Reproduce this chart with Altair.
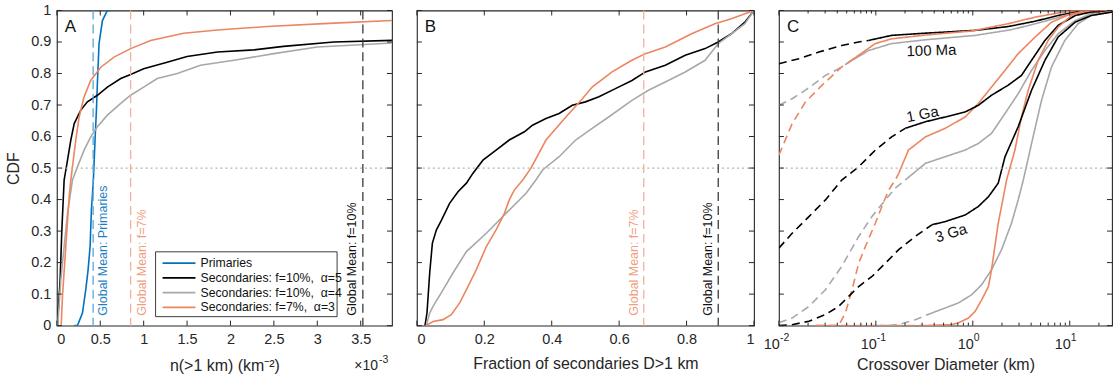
import altair as alt
import pandas as pd

FONT = "Liberation Sans"
AXC = "#262626"
H = 316
WA, WB, WC = 336, 338, 334
NB = "\u00a0"

SERIES = ["Primaries", "Secondaries: f=10%," + NB + " α=5", "Secondaries: f=10%," + NB + " α=4",
          "Secondaries: f=7%," + NB + " α=3"]
SERIES_COLORS = ["#0072BD", "#000000", "#A8A8A8", "#EC8560"]

Y_TICKS = [0, 0.1, 0.2, 0.3, 0.4, 0.5, 0.6, 0.7, 0.8, 0.9, 1.0]

# ---------------- Panel A : n(>1 km) in units of 1e-3 km^-2 ----------------
A_XMAX = 3.86
A_XTICKS = [0, 0.5, 1, 1.5, 2, 2.5, 3, 3.5]
A_PRIM_X = [0.20, 0.237, 0.295, 0.333, 0.36, 0.383, 0.398, 0.421, 0.44, 0.456, 0.467, 0.486, 0.525, 0.582, 0.62]
A_PRIM_Y = [0, 0, 0.04, 0.114, 0.177, 0.251, 0.367, 0.462, 0.59, 0.684, 0.768, 0.895, 0.968, 1.0, 1.0]
A_SEC5_X = [0.008, 0.015, 0.038, 0.057, 0.084, 0.123, 0.161, 0.2, 0.276, 0.352, 0.467, 0.582, 0.736, 0.85, 1.0,
            1.27, 1.5, 1.85, 2.27, 2.61, 3.19, 3.86]
A_SEC5_Y = [0, 0.04, 0.146, 0.30, 0.462, 0.525, 0.589, 0.641, 0.684, 0.71, 0.731, 0.757, 0.784, 0.797, 0.815,
            0.836, 0.854, 0.868, 0.875, 0.886, 0.90, 0.905]
A_SEC4_X = [0.01, 0.046, 0.084, 0.123, 0.18, 0.238, 0.314, 0.39, 0.467, 0.582, 0.736, 0.85, 1.0, 1.157, 1.387,
            1.655, 2.04, 2.5, 3.0, 3.49, 3.86]
A_SEC4_Y = [0, 0.146, 0.251, 0.357, 0.462, 0.504, 0.557, 0.599, 0.631, 0.668, 0.705, 0.731, 0.757, 0.784, 0.80,
            0.826, 0.842, 0.863, 0.884, 0.891, 0.897]
A_SEC3_X = [0.05, 0.065, 0.103, 0.142, 0.161, 0.218, 0.257, 0.314, 0.39, 0.506, 0.659, 0.85, 1.08, 1.46, 1.85,
            2.42, 3.19, 3.86]
A_SEC3_Y = [0, 0.093, 0.251, 0.409, 0.462, 0.589, 0.662, 0.726, 0.778, 0.82, 0.852, 0.879, 0.905, 0.928, 0.938,
            0.949, 0.96, 0.968]
A_MEANS = [0.418, 0.85, 3.525]
A_MEAN_COLORS = ["#5AA6DC", "#F2B29A", "#3A3A3A"]
A_MEAN_LABELS = ["Global Mean: Primaries", "Global Mean: f=7%", "Global Mean: f=10%"]
A_MEAN_TEXT_COLORS = ["#1F7FC4", "#F0A080", "#111111"]
A_MEAN_SIDE = [10, 11, -11]

# ---------------- Panel B : fraction of secondaries D>1 km ----------------
B_XTICKS = [0, 0.2, 0.4, 0.6, 0.8, 1]
B_SEC5_X = [0.024, 0.03, 0.038, 0.046, 0.058, 0.073, 0.097, 0.122, 0.147, 0.166, 0.196, 0.235, 0.274, 0.319,
            0.343, 0.383, 0.422, 0.461, 0.5, 0.54, 0.589, 0.638, 0.678, 0.737, 0.796, 0.855, 0.894, 0.933, 0.973, 1.0]
B_SEC5_Y = [0, 0.04, 0.167, 0.262, 0.304, 0.335, 0.388, 0.425, 0.452, 0.483, 0.525, 0.557, 0.589, 0.615,
            0.636, 0.657, 0.673, 0.699, 0.71, 0.726, 0.752, 0.778, 0.805, 0.826, 0.858, 0.879, 0.9, 0.926, 0.963, 1.0]
B_SEC4_X = [0.028, 0.038, 0.048, 0.078, 0.107, 0.147, 0.206, 0.265, 0.324, 0.353, 0.373, 0.422, 0.471, 0.52,
            0.569, 0.638, 0.687, 0.737, 0.796, 0.855, 0.894, 0.933, 0.973, 1.0]
B_SEC4_Y = [0, 0.04, 0.061, 0.114, 0.167, 0.235, 0.293, 0.357, 0.42, 0.462, 0.494, 0.536, 0.589, 0.626,
            0.662, 0.715, 0.747, 0.773, 0.805, 0.842, 0.895, 0.926, 0.958, 1.0]
B_SEC3_X = [0.026, 0.048, 0.078, 0.102, 0.127, 0.147, 0.176, 0.206, 0.235, 0.26, 0.274, 0.289, 0.314, 0.338,
            0.383, 0.442, 0.491, 0.52, 0.579, 0.638, 0.678, 0.737, 0.815, 0.884, 0.933, 1.0]
B_SEC3_Y = [0, 0.013, 0.019, 0.035, 0.072, 0.114, 0.177, 0.251, 0.304, 0.357, 0.399, 0.43, 0.462, 0.499,
            0.589, 0.662, 0.72, 0.757, 0.805, 0.842, 0.863, 0.884, 0.926, 0.958, 0.974, 1.0]
B_MEANS = [0.673, 0.894]
B_MEAN_COLORS = ["#F2B29A", "#3A3A3A"]
B_MEAN_LABELS = ["Global Mean: f=7%", "Global Mean: f=10%"]
B_MEAN_TEXT_COLORS = ["#F0A080", "#111111"]
B_MEAN_SIDE = [-10, -10]

# ---------------- Panel C : crossover diameter (km), log axis ----------------
C_DOMAIN = [0.01, 27.3]
C_MAJOR = [0.01, 0.1, 1, 10]
C_MAJOR_EXP = ["-2", "-1", "0", "1"]
C_MINOR = [0.02, 0.03, 0.04, 0.05, 0.06, 0.07, 0.08, 0.09, 0.2, 0.3, 0.4, 0.5, 0.6, 0.7, 0.8, 0.9,
           2, 3, 4, 5, 6, 7, 8, 9, 20]

# 100 Ma
C100_K_X = [0.01, 0.0161, 0.0258, 0.0445, 0.0665, 0.0843, 0.1455, 0.325, 1.064, 2.32, 4.41, 7.6, 11.4, 16.6, 27.3]
C100_K_Y = [0.831, 0.847, 0.868, 0.889, 0.900, 0.905, 0.921, 0.928, 0.937, 0.949, 0.966, 0.984, 0.995, 1.0, 1.0]
C100_K_SPLIT = 5
C100_O_X = [0.01, 0.0137, 0.0188, 0.0279, 0.0445, 0.0525, 0.0665, 0.0988, 0.1455, 0.325, 0.975, 2.32, 4.41, 7.6,
            11.4, 27.3]
C100_O_Y = [0.541, 0.641, 0.71, 0.763, 0.821, 0.836, 0.858, 0.895, 0.91, 0.922, 0.935, 0.958, 0.979, 0.992, 1.0, 1.0]
C100_O_SPLIT = 5
C100_G_X = [0.01, 0.0137, 0.0188, 0.0302, 0.0414, 0.0568, 0.0843, 0.1455, 0.325, 1.064, 2.51, 5.12, 8.91, 14.3, 27.3]
C100_G_Y = [0.699, 0.72, 0.747, 0.794, 0.815, 0.842, 0.873, 0.895, 0.907, 0.921, 0.939, 0.963, 0.984, 0.995, 1.0]
C100_G_SPLIT = 5
# 1 Ga
C1G_K_X = [0.01, 0.0137, 0.0204, 0.0302, 0.0445, 0.0665, 0.0988, 0.1455, 0.201, 0.325, 0.519, 0.834, 1.14, 1.56,
           2.32, 3.18, 4.04, 5.55, 7.6, 11.4, 16.6, 27.3]
C1G_K_Y = [0.246, 0.293, 0.346, 0.399, 0.462, 0.504, 0.557, 0.599, 0.626, 0.647, 0.662, 0.678, 0.699, 0.731,
           0.763, 0.794, 0.842, 0.905, 0.953, 0.984, 0.995, 1.0]
C1G_K_SPLIT = 8
C1G_O_X = [0.024, 0.0414, 0.0485, 0.0568, 0.0665, 0.078, 0.0988, 0.1155, 0.1355, 0.1585, 0.172, 0.217, 0.325,
           0.519, 0.834, 1.14, 1.56, 2.15, 2.94, 4.41, 6.49, 10.4, 27.3]
C1G_O_Y = [0.0, 0.0, 0.04, 0.114, 0.198, 0.251, 0.325, 0.378, 0.43, 0.462, 0.483, 0.557, 0.599, 0.626, 0.662,
           0.705, 0.757, 0.81, 0.863, 0.916, 0.963, 0.99, 1.0]
C1G_O_SPLIT = 10
C1G_G_X = [0.01, 0.0137, 0.0204, 0.0302, 0.0445, 0.0665, 0.0912, 0.1253, 0.1585, 0.201, 0.325, 0.519, 0.834,
           1.14, 1.56, 2.15, 2.94, 4.04, 5.55, 7.6, 11.4, 16.6, 27.3]
C1G_G_Y = [0.009, 0.024, 0.061, 0.114, 0.188, 0.283, 0.346, 0.399, 0.436, 0.462, 0.515, 0.536, 0.557, 0.578,
           0.61, 0.673, 0.736, 0.81, 0.873, 0.926, 0.968, 0.99, 1.0]
C1G_G_SPLIT = 9
# 3 Ga
C3G_K_X = [0.01, 0.0137, 0.0204, 0.0302, 0.0414, 0.0525, 0.0665, 0.0912, 0.1253, 0.172, 0.255, 0.378, 0.519,
           0.834, 1.14, 1.45, 1.83, 2.15, 2.94, 4.04, 5.55, 7.6, 11.4, 16.6, 27.3]
C3G_K_Y = [0.0, 0.003, 0.014, 0.035, 0.061, 0.093, 0.124, 0.156, 0.198, 0.241, 0.283, 0.32, 0.33, 0.351, 0.378,
           0.409, 0.452, 0.536, 0.631, 0.747, 0.842, 0.916, 0.963, 0.984, 0.995]
C3G_K_SPLIT = 11
C3G_O_X = [0.024, 0.1, 0.3, 0.607, 0.711, 0.902, 1.056, 1.236, 1.45, 1.56, 1.69, 1.83, 2.07, 2.23, 2.72, 3.18,
           3.73, 4.73, 6.0, 7.6, 10.4, 14.0, 27.3]
C3G_O_Y = [0.0, 0.0, 0.0, 0.003, 0.009, 0.024, 0.045, 0.082, 0.124, 0.177, 0.251, 0.325, 0.409, 0.462, 0.557,
           0.662, 0.747, 0.842, 0.905, 0.947, 0.984, 1.0, 1.0]
C3G_O_SPLIT = 2
C3G_G_X = [0.1, 0.1253, 0.172, 0.255, 0.378, 0.519, 0.711, 0.975, 1.236, 1.56, 1.98, 2.51, 2.94, 3.32, 4.04,
           5.12, 6.49, 8.91, 12.2, 16.6, 27.3]
C3G_G_Y = [0.0, 0.0, 0.003, 0.019, 0.04, 0.056, 0.072, 0.098, 0.13, 0.177, 0.241, 0.325, 0.399, 0.462, 0.578,
           0.715, 0.821, 0.905, 0.958, 0.984, 0.997]
C3G_G_SPLIT = 4

C_LABELS = ["100 Ma", "1 Ga", "3 Ga"]
C_LABEL_X = [0.375, 0.303, 0.596]
C_LABEL_Y = [0.873, 0.671, 0.294]
C_LABEL_ANGLE = [358, 349, 343]

# ======================================================================
color_scale = alt.Scale(domain=SERIES, range=SERIES_COLORS)
y_scale = alt.Scale(domain=[0, 1], nice=False, zero=False)
NOAX = dict(ticks=False, domain=False, grid=False, labelOverlap=False)


def curves_df(parts):
    rows = []
    for key, series, xs, ys, dash in parts:
        for i, (x, y) in enumerate(zip(xs, ys)):
            rows.append({"key": key, "series": series, "x": x, "y": y, "i": i, "part": dash})
    return pd.DataFrame(rows)


class Panel:
    def __init__(self, xscale, xaxis, xtitle, yaxis, ytitle):
        self.xs, self.xa, self.xt = xscale, xaxis, xtitle
        self.ya, self.yt = yaxis, ytitle

    def X(self, f="x:Q"):
        return alt.X(f, scale=self.xs, axis=self.xa, title=self.xt)

    def Y(self, f="y:Q"):
        return alt.Y(f, scale=y_scale, axis=self.ya, title=self.yt)


def frame_ticks(P, W, xmajor, xminor=None):
    lay = []
    dx = pd.DataFrame({"x": xmajor})
    for y0, y1 in [(H, H - 5), (0, 5)]:
        lay.append(alt.Chart(dx).mark_rule(color=AXC, strokeWidth=1).encode(
            x=P.X(), y=alt.value(y0), y2=alt.value(y1)))
    if xminor:
        dm = pd.DataFrame({"x": xminor})
        for y0, y1 in [(H, H - 3), (0, 3)]:
            lay.append(alt.Chart(dm).mark_rule(color=AXC, strokeWidth=1).encode(
                x=P.X(), y=alt.value(y0), y2=alt.value(y1)))
    dy = pd.DataFrame({"y": Y_TICKS})
    for x0, x1 in [(0, 5), (W, W - 5)]:
        lay.append(alt.Chart(dy).mark_rule(color=AXC, strokeWidth=1).encode(
            y=P.Y(), x=alt.value(x0), x2=alt.value(x1)))
    return lay


def half_line(P):
    return alt.Chart(pd.DataFrame({"y": [0.5]})).mark_rule(
        color="#B4B4B4", strokeDash=[2, 3], strokeWidth=1.3).encode(y=P.Y())


def panel_letter(t):
    return alt.Chart(pd.DataFrame({"t": [t]})).mark_text(
        font=FONT, fontSize=17, align="left", baseline="middle", color="#111111").encode(
        x=alt.value(8), y=alt.value(17), text="t:N")


def mean_layers(P, means, cols, labels, tcols, side):
    d = pd.DataFrame({"x": means, "c": cols, "lab": labels, "tc": tcols, "s": side})
    rules = alt.Chart(d).mark_rule(strokeDash=[9, 5], strokeWidth=1.3).encode(
        x=P.X(), stroke=alt.Stroke("c:N", scale=None))
    texts = []
    for _, r in d.iterrows():
        texts.append(alt.Chart(pd.DataFrame([r])).mark_text(
            font=FONT, fontSize=12.5, angle=270, align="left", baseline="middle", dy=float(r["s"]),
            color=r["tc"]).encode(x=P.X(), y=alt.value(H - 10), text="lab:N"))
    return [rules] + texts


# ---------------- Panel A ----------------
PA = Panel(alt.Scale(domain=[0, A_XMAX], nice=False, zero=False),
           alt.Axis(values=A_XTICKS, format="~g", labelPadding=7, titlePadding=11, **NOAX),
           "n(>1 km) (km⁻²)",
           alt.Axis(values=Y_TICKS, format="~g", labelPadding=6, titlePadding=9, **NOAX), "CDF")
dfA = curves_df([
    ("p", SERIES[0], A_PRIM_X, A_PRIM_Y, "s"),
    ("k", SERIES[1], A_SEC5_X, A_SEC5_Y, "s"),
    ("g", SERIES[2], A_SEC4_X, A_SEC4_Y, "s"),
    ("o", SERIES[3], A_SEC3_X, A_SEC3_Y, "s"),
])
linesA = alt.Chart(dfA).mark_line(strokeWidth=1.6, clip=True).encode(
    x=PA.X(), y=PA.Y(),
    color=alt.Color("series:N", scale=color_scale, legend=None),
    detail="key:N", order="i:Q")

leg = [alt.Chart(pd.DataFrame({"a": [0]})).mark_rect(fill="white", stroke=AXC, strokeWidth=0.9).encode(
    x=alt.value(99), x2=alt.value(281), y=alt.value(242), y2=alt.value(307))]
for k, (nm, col) in enumerate(zip(SERIES, SERIES_COLORS)):
    yy = 253.3 + k * 14.8
    dd = pd.DataFrame({"name": [nm]})
    leg.append(alt.Chart(dd).mark_rule(color=col, strokeWidth=1.6).encode(
        x=alt.value(106), x2=alt.value(139), y=alt.value(yy)))
    leg.append(alt.Chart(dd).mark_text(font=FONT, fontSize=12.3, align="left", baseline="middle",
                                       color="#111111").encode(x=alt.value(144), y=alt.value(yy), text="name:N"))

expA = [
    alt.Chart(pd.DataFrame({"t": ["×10"]})).mark_text(font=FONT, fontSize=14, align="right", baseline="middle",
                                                     color=AXC).encode(x=alt.value(WA - 14), y=alt.value(H + 40), text="t:N"),
    alt.Chart(pd.DataFrame({"t": ["-3"]})).mark_text(font=FONT, fontSize=10.5, align="left", baseline="middle",
                                                    color=AXC).encode(x=alt.value(WA - 13), y=alt.value(H + 34), text="t:N"),
]

panelA = alt.layer(
    linesA, half_line(PA), *mean_layers(PA, A_MEANS, A_MEAN_COLORS, A_MEAN_LABELS, A_MEAN_TEXT_COLORS, A_MEAN_SIDE),
    *frame_ticks(PA, WA, A_XTICKS), panel_letter("A"), *leg, *expA
).properties(width=WA, height=H)

# ---------------- Panel B ----------------
PB = Panel(alt.Scale(domain=[0, 1], nice=False, zero=False),
           alt.Axis(values=B_XTICKS, format="~g", labelPadding=7, titlePadding=9, **NOAX),
           "Fraction of secondaries D>1 km",
           alt.Axis(labels=False, **NOAX), None)
dfB = curves_df([
    ("k", SERIES[1], B_SEC5_X, B_SEC5_Y, "s"),
    ("g", SERIES[2], B_SEC4_X, B_SEC4_Y, "s"),
    ("o", SERIES[3], B_SEC3_X, B_SEC3_Y, "s"),
])
linesB = alt.Chart(dfB).mark_line(strokeWidth=1.6, clip=True).encode(
    x=PB.X(), y=PB.Y(),
    color=alt.Color("series:N", scale=color_scale, legend=None),
    detail="key:N", order="i:Q")
panelB = alt.layer(
    linesB, half_line(PB), *mean_layers(PB, B_MEANS, B_MEAN_COLORS, B_MEAN_LABELS, B_MEAN_TEXT_COLORS, B_MEAN_SIDE),
    *frame_ticks(PB, WB, B_XTICKS), panel_letter("B")
).properties(width=WB, height=H)

# ---------------- Panel C ----------------
PC = Panel(alt.Scale(type="log", domain=C_DOMAIN, nice=False),
           alt.Axis(values=C_MAJOR, labels=False, titlePadding=31, **NOAX),
           "Crossover Diameter (km)",
           alt.Axis(labels=False, **NOAX), None)
c_parts = []
for key, series, xs, ys, sp in [
    ("100k", SERIES[1], C100_K_X, C100_K_Y, C100_K_SPLIT),
    ("100g", SERIES[2], C100_G_X, C100_G_Y, C100_G_SPLIT),
    ("100o", SERIES[3], C100_O_X, C100_O_Y, C100_O_SPLIT),
    ("1gg", SERIES[2], C1G_G_X, C1G_G_Y, C1G_G_SPLIT),
    ("1go", SERIES[3], C1G_O_X, C1G_O_Y, C1G_O_SPLIT),
    ("1gk", SERIES[1], C1G_K_X, C1G_K_Y, C1G_K_SPLIT),
    ("3gg", SERIES[2], C3G_G_X, C3G_G_Y, C3G_G_SPLIT),
    ("3go", SERIES[3], C3G_O_X, C3G_O_Y, C3G_O_SPLIT),
    ("3gk", SERIES[1], C3G_K_X, C3G_K_Y, C3G_K_SPLIT),
]:
    c_parts.append((key + "d", series, xs[:sp + 1], ys[:sp + 1], "dashed"))
    c_parts.append((key + "s", series, xs[sp:], ys[sp:], "solid"))
dfC = curves_df(c_parts)
linesC = alt.Chart(dfC).mark_line(strokeWidth=1.6, clip=True).encode(
    x=PC.X(), y=PC.Y(),
    color=alt.Color("series:N", scale=color_scale, legend=None),
    strokeDash=alt.StrokeDash("part:N", scale=alt.Scale(domain=["solid", "dashed"], range=[[1, 0], [8, 5]]),
                              legend=None),
    detail="key:N", order="i:Q")

dlabC = pd.DataFrame({"x": C_MAJOR, "e": C_MAJOR_EXP, "b": ["10"] * len(C_MAJOR)})
tickLabC = [
    alt.Chart(dlabC).mark_text(font=FONT, fontSize=14.5, align="right", baseline="middle", color=AXC, dx=1).encode(
        x=PC.X(), y=alt.value(H + 19), text="b:N"),
    alt.Chart(dlabC).mark_text(font=FONT, fontSize=10.5, align="left", baseline="middle", color=AXC, dx=1).encode(
        x=PC.X(), y=alt.value(H + 12), text="e:N"),
]
dC = pd.DataFrame({"x": C_LABEL_X, "y": C_LABEL_Y, "t": C_LABELS, "a": C_LABEL_ANGLE})
labC = alt.Chart(dC).mark_text(font=FONT, fontSize=15, align="center", baseline="middle", color="#111111").encode(
    x=PC.X(), y=PC.Y(), text="t:N", angle=alt.Angle("a:Q", scale=None))

panelC = alt.layer(
    linesC, half_line(PC), *frame_ticks(PC, WC, C_MAJOR, C_MINOR), labC, *tickLabC, panel_letter("C")
).properties(width=WC, height=H)

chart = alt.hconcat(panelA, panelB, panelC, spacing=25, bounds="flush").properties(
    padding={"left": 5, "top": 1, "right": 0, "bottom": 0}, background="white"
).configure_view(stroke=AXC, strokeWidth=1.1).configure_axis(
    labelFont=FONT, labelFontSize=14.5, labelColor=AXC, titleFont=FONT, titleFontSize=16,
    titleFontWeight="normal", titleColor=AXC
)

chart.save("out.html", embed_options={"renderer": "svg", "actions": False})
